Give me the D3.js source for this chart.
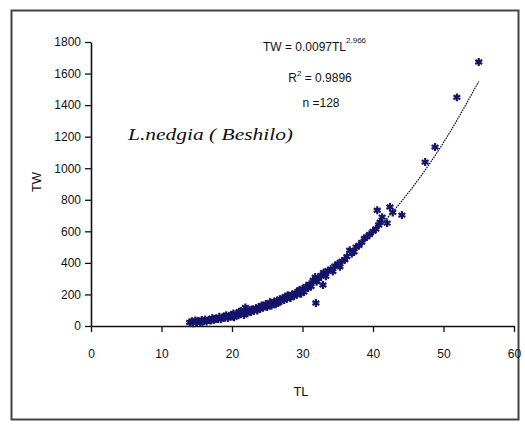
<!DOCTYPE html>
<html><head><meta charset="utf-8">
<script src="https://cdn.jsdelivr.net/npm/d3@7"></script>
<style>html,body{margin:0;padding:0;background:#fff}svg{display:block}</style>
</head><body>
<svg id="c" width="525" height="424"></svg>
<script>
const xTicks = [0,10,20,30,40,50,60];
const yTicks = [0,200,400,600,800,1000,1200,1400,1600,1800];
const TL = [14.0,14.3,14.5,14.8,15.0,15.2,15.5,15.7,16.0,16.2,
16.4,16.7,17.0,17.2,17.4,17.7,18.0,18.2,18.4,18.7,
19.0,19.2,19.4,19.7,20.0,20.2,20.3,20.6,20.9,21.0,
21.2,21.5,21.7,21.9,22.0,22.2,22.5,22.7,23.0,23.1,
23.4,23.6,23.8,24.0,24.2,24.4,24.6,24.8,25.0,25.2,
25.4,25.6,25.8,26.0,26.2,26.4,26.6,26.8,27.0,27.2,
27.4,27.6,27.8,28.0,28.3,28.5,28.8,29.0,29.2,29.5,
29.8,30.0,30.2,30.5,30.8,31.0,31.2,31.5,31.8,31.9,
32.0,32.3,32.6,32.9,33.0,33.3,33.6,34.0,34.3,34.6,
35.0,35.3,35.6,36.0,36.3,36.7,37.0,37.3,37.6,38.0,
38.4,38.8,39.1,39.5,40.0,40.4,40.6,40.8,41.0,41.3,
42.0,42.4,42.8,44.1,47.4,48.8,51.9,55.0,
15.8,17.5,18.9,19.9,21.3,22.8,24.1,26.5,27.9,29.6];
const TW = [22,30,18,35,25,32,20,38,30,42,
28,40,35,50,38,48,45,58,42,55,
52,68,50,62,60,80,55,72,68,90,
75,85,70,118,92,80,100,88,105,95,
112,98,120,110,130,115,125,140,120,135,
150,128,145,155,138,162,150,170,160,178,
165,185,172,190,178,200,190,210,198,220,
205,235,215,250,240,265,250,290,310,146,
280,300,320,260,340,315,350,360,345,380,
395,375,410,420,440,480,460,470,500,510,
530,555,565,580,600,615,734,640,658,690,
652,754,720,703,1039,1134,1449,1673,
28,45,60,70,95,105,118,145,195,230];
const trendTL = [14,17,20,25,30,35,40,45,50,55];
const trendTW = [24,43,71,140,245,392,589,843,1163,1550];

const svg = d3.select("#c");
svg.append("rect").attr("x",0).attr("y",0).attr("width",525).attr("height",424).attr("fill","#fff");
svg.append("rect").attr("x",11.5).attr("y",10.5).attr("width",507).attr("height",409)
  .attr("fill","none").attr("stroke","#444").attr("stroke-width",2);

const x = d3.scaleLinear().domain([0,60]).range([91,514]);
const y = d3.scaleLinear().domain([0,1800]).range([326,42]);
const tickFont = "'Liberation Sans Narrow','Liberation Sans',Arial,sans-serif";

const gx = svg.append("g").attr("transform","translate(0,326)")
  .call(d3.axisBottom(x).tickValues(xTicks).tickSize(6).tickSizeOuter(0).tickFormat(d3.format("d")));
const gy = svg.append("g").attr("transform","translate(91,0)")
  .call(d3.axisLeft(y).tickValues(yTicks).tickSize(6).tickSizeOuter(0).tickFormat(d3.format("d")));
[gx,gy].forEach(g=>{
  g.select(".domain").attr("stroke","#111").attr("stroke-width",1.6);
  g.selectAll(".tick line").attr("stroke","#111").attr("stroke-width",1.3);
  g.selectAll("text").attr("font-family",tickFont).attr("font-size",12).attr("fill","#111");
});
gx.selectAll("text").attr("dy","1.9em");
gy.selectAll("text").attr("x",-10);

// trend line
svg.append("path")
  .datum(trendTL.map((t,i)=>[t,trendTW[i]]))
  .attr("d", d3.line().x(d=>x(d[0])).y(d=>y(d[1])).curve(d3.curveMonotoneX))
  .attr("fill","none").attr("stroke","#111").attr("stroke-width",1.2).attr("stroke-dasharray","1.6,0.9");

// points
const sym = d3.symbol().type(d3.symbolAsterisk || d3.symbolCross).size(44);
svg.append("g").selectAll("path").data(TL.map((t,i)=>[t,TW[i]])).join("path")
  .attr("transform",d=>`translate(${x(d[0])},${y(d[1])})`)
  .attr("d",sym)
  .attr("fill", d3.symbolAsterisk ? "none" : "#14146a")
  .attr("stroke","#14146a").attr("stroke-width",2.2);

// axis titles
svg.append("text").attr("x",301).attr("y",396).attr("text-anchor","middle")
  .attr("font-family",tickFont).attr("font-size",13).attr("fill","#111").text("TL");
svg.append("text").attr("transform","translate(41,182) rotate(-90)").attr("text-anchor","middle")
  .attr("font-family",tickFont).attr("font-size",13).attr("fill","#111").text("TW");

// equation
const eq = svg.append("text").attr("x",263).attr("y",51)
  .attr("font-family",tickFont).attr("font-size",12).attr("fill","#111");
eq.append("tspan").text("TW = 0.0097TL");
eq.append("tspan").attr("dy",-8).attr("font-size",8).text("2.966");
const r2 = svg.append("text").attr("x",320).attr("y",82).attr("text-anchor","middle")
  .attr("font-family",tickFont).attr("font-size",12).attr("fill","#111");
r2.append("tspan").text("R");
r2.append("tspan").attr("dy",-6).attr("font-size",8).text("2");
r2.append("tspan").attr("dy",6).text(" = 0.9896");
svg.append("text").attr("x",321).attr("y",107).attr("text-anchor","middle")
  .attr("font-family",tickFont).attr("font-size",12).attr("fill","#111").text("n =128");

svg.append("text").attr("x",128).attr("y",140)
  .attr("font-family","'Liberation Serif','DejaVu Serif',serif").attr("font-style","italic")
  .attr("font-size",16).attr("fill","#111")
  .attr("textLength",165).attr("lengthAdjust","spacingAndGlyphs")
  .text("L.nedgia ( Beshilo)");
</script>
</body></html>
